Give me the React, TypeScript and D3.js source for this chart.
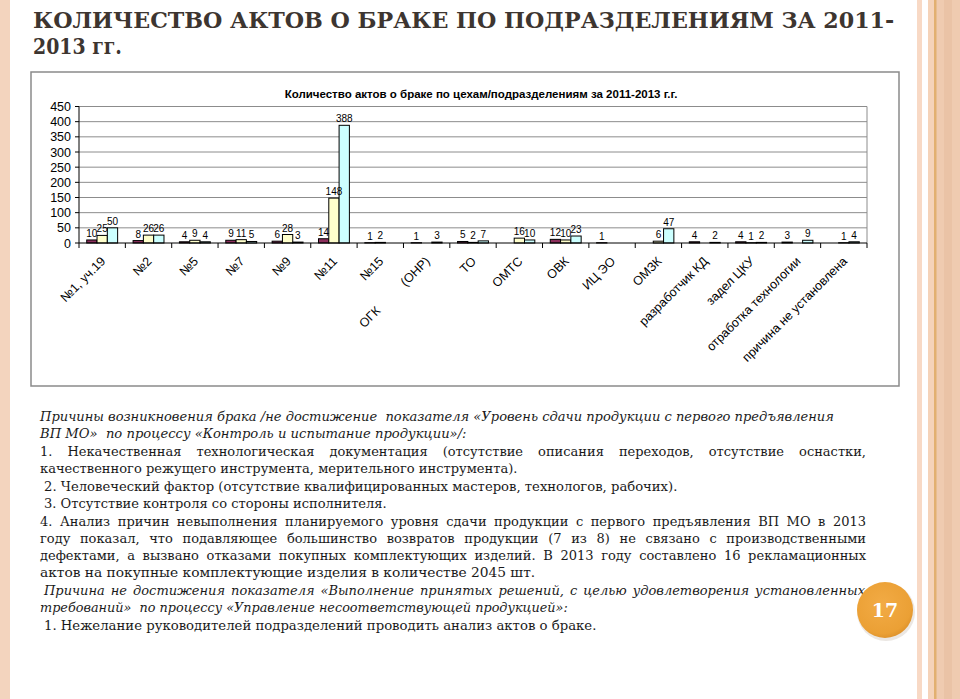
import { useLayoutEffect, useRef, useState } from "react";
import * as d3 from "d3";

// categories (workshops / departments)
const categories = [
  "№1, уч.19", "№2", "№5", "№7", "№9", "№11", "№15",
  "ОГК          (ОНР)", "ТО", "ОМТС", "ОВК", "ИЦ ЭО", "ОМЗК",
  "разработчик КД", "задел ЦКУ", "отработка технологии", "причина не установлена",
];
const years = ["2011", "2012", "2013"];
const values2011 = [10, 8, 4, 9, 6, 14, 1, 1, 5, null, 12, 1, null, 4, 4, 3, null];
const values2012 = [25, 26, 9, 11, 28, 148, 2, null, 2, 16, 10, null, 6, null, 1, null, 1];
const values2013 = [50, 26, 4, 5, 3, 388, null, 3, 7, 10, 23, null, 47, 2, 2, 9, 4];
const yTicks = [0, 50, 100, 150, 200, 250, 300, 350, 400, 450];
const colors = ["#8c2f5c", "#ffffcc", "#ccffff"];

const slideTitle = [
  "КОЛИЧЕСТВО АКТОВ О БРАКЕ ПО ПОДРАЗДЕЛЕНИЯМ ЗА 2011-",
  "2013 гг.",
];
const chartTitle = "Количество актов о браке по цехам/подразделениям за 2011-2013 г.г.";

// text block: [text, italic, x, endX, baseline, justified]
const bodyLines: [string, boolean, number, number, number, boolean][] = [
  ["Причины возникновения брака /не достижение  показателя «Уровень сдачи продукции с первого предъявления", true, 40, 835, 421, false],
  ["ВП МО»  по процессу «Контроль и испытание продукции»/:", true, 40, 467, 438, false],
  ["1. Некачественная технологическая документация (отсутствие описания переходов, отсутствие оснастки,", false, 40, 866, 456, true],
  ["качественного режущего инструмента, мерительного инструмента).", false, 40, 518, 473, false],
  ["2. Человеческий фактор (отсутствие квалифицированных мастеров, технологов, рабочих).", false, 44, 678, 491, false],
  ["3. Отсутствие контроля со стороны исполнителя.", false, 44, 387, 508, false],
  ["4. Анализ причин невыполнения планируемого уровня сдачи продукции с первого предъявления ВП МО в 2013", false, 40, 866, 526, true],
  ["году показал, что подавляющее большинство возвратов продукции (7 из 8) не связано с производственными", false, 40, 866, 543, true],
  ["дефектами, а вызвано отказами покупных комплектующих изделий. В 2013 году составлено 16 рекламационных", false, 40, 866, 560, true],
  ["актов на покупные комплектующие изделия в количестве 2045 шт.", false, 40, 536, 577, false],
  ["Причина не достижения показателя «Выполнение принятых решений, с целью удовлетворения установленных", true, 44, 865, 595, true],
  ["требований»  по процессу «Управление несоответствующей продукцией»:", true, 40, 568, 612, false],
  ["1. Нежелание руководителей подразделений проводить анализ актов о браке.", false, 44, 597, 630, false],
];

const W = 960;
const H = 699;
const plot = { left: 79, right: 867, top: 106.5, bottom: 243 };
const sans = "Liberation Sans";
const serif = "DejaVu Serif";

// text fitted to a measured width: word spacing when justified, horizontal scale otherwise
function FitText({ text, x, y, width, justify, ...rest }: any) {
  const ref = useRef<SVGTextElement>(null);
  const [fit, setFit] = useState({ s: 1, ws: 0 });
  useLayoutEffect(() => {
    const el = ref.current;
    if (!el) return;
    const w = el.getComputedTextLength();
    const spaces = (text.match(/ /g) || []).length;
    if (justify && w < width && spaces > 0) setFit({ s: 1, ws: (width - w) / spaces });
    else setFit({ s: width / w, ws: 0 });
  }, [text, width, justify]);
  return (
    <text ref={ref} transform={`translate(${x},${y}) scale(${fit.s},1)`}
      style={{ wordSpacing: fit.ws + "px", whiteSpace: "pre" }} {...rest}>{text}</text>
  );
}

export default function App() {
  const series = [values2011, values2012, values2013];

  const x0 = d3.scaleBand<string>().domain(categories).range([plot.left, plot.right]);
  const x1 = d3.scaleBand<string>().domain(years).range([0, x0.bandwidth()]).paddingOuter(0.75);
  const y = d3.scaleLinear().domain([0, 450]).range([plot.bottom, plot.top]);

  const bars = categories.flatMap((c, i) =>
    years.map((yr, s) => ({ c, yr, s, v: series[s][i] }))
  ).filter(d => d.v != null) as { c: string; yr: string; s: number; v: number }[];

  return (
    <svg width={W} height={H} viewBox={`0 0 ${W} ${H}`}
      style={{ position: "fixed", left: 0, top: 0, background: "#fff" }}>
      <rect x={0} y={0} width={W} height={H} fill="#fff" />

      {/* side decoration */}
      <rect x={0} y={0} width={10} height={H} fill="#f3d4be" />
      <rect x={917} y={0} width={5} height={H} fill="#f8d9c5" />
      <rect x={928} y={0} width={32} height={H} fill="#efcbb0" />
      <rect x={928} y={0} width={6} height={H} fill="#f5d3b9" />
      <rect x={934} y={0} width={2.5} height={H} fill="#e2b070" />
      <rect x={944} y={0} width={8} height={H} fill="#eac3a6" />

      {/* slide title */}
      {slideTitle.map((t, i) => (
        <FitText key={i} text={t} x={33} y={i === 0 ? 28 : 54} width={i === 0 ? 862 : 89}
          justify={false} fontFamily={serif} fontWeight="bold" fontSize={23} fill="#3d3530" />
      ))}

      {/* chart box */}
      <rect x={31} y={72} width={868} height={314} fill="#fff" stroke="#8a8a8a" strokeWidth={1.5} />
      <text x={481} y={98} textAnchor="middle" fontFamily={sans} fontWeight="bold"
        fontSize={11.5} fill="#000">{chartTitle}</text>

      {/* gridlines */}
      {yTicks.map(t => (
        <g key={t}>
          {t > 0 && <line x1={plot.left} x2={plot.right} y1={y(t)} y2={y(t)} stroke="#8c8c8c" strokeWidth={1} />}
          <line x1={plot.left - 4} x2={plot.left} y1={y(t)} y2={y(t)} stroke="#000" />
          <text x={71} y={y(t) + 4.5} textAnchor="end" fontFamily={sans} fontSize={12.5} fill="#000">{t}</text>
        </g>
      ))}
      <line x1={plot.right} x2={plot.right} y1={plot.top} y2={plot.bottom} stroke="#8c8c8c" />

      {/* bars */}
      {bars.map(d => {
        const bx = (x0(d.c) as number) + (x1(d.yr) as number);
        return (
          <rect key={d.c + d.yr} x={bx} y={y(d.v)} width={x1.bandwidth()}
            height={plot.bottom - y(d.v)} fill={colors[d.s]} stroke="#000" strokeWidth={1} />
        );
      })}
      {bars.map(d => {
        const bx = (x0(d.c) as number) + (x1(d.yr) as number) + x1.bandwidth() / 2;
        return (
          <text key={"l" + d.c + d.yr} x={bx} y={y(d.v) - 3} textAnchor="middle"
            fontFamily={sans} fontSize={10} fill="#000">{d.v}</text>
        );
      })}

      {/* axes */}
      <line x1={plot.left} x2={plot.left} y1={plot.top} y2={plot.bottom} stroke="#000" />
      <line x1={plot.left} x2={plot.right} y1={plot.bottom} y2={plot.bottom} stroke="#000" />
      {categories.map(c => (
        <line key={"t" + c} x1={x0(c)} x2={x0(c)} y1={plot.bottom} y2={plot.bottom + 5} stroke="#000" />
      ))}
      <line x1={plot.right} x2={plot.right} y1={plot.bottom} y2={plot.bottom + 5} stroke="#000" />
      {categories.map(c => {
        const cx = (x0(c) as number) + x0.bandwidth() / 2 + 4;
        return (
          <text key={"x" + c} transform={`translate(${cx},${plot.bottom + 19}) rotate(-45)`}
            textAnchor="end" fontFamily={sans} fontSize={12.5} fill="#000"
            style={{ whiteSpace: "pre" }}>{c}</text>
        );
      })}

      {/* text block */}
      {bodyLines.map(([t, it, lx, ex, by, just], i) => (
        <FitText key={"b" + i} text={t} x={lx} y={by} width={ex - lx} justify={just}
          fontFamily={serif} fontSize={13} fontStyle={it ? "italic" : "normal"} fill="#1a1a1a" />
      ))}

      {/* page number */}
      <defs>
        <radialGradient id="badge" cx="45%" cy="40%" r="65%">
          <stop offset="0%" stopColor="#f2ab45" />
          <stop offset="80%" stopColor="#eba035" />
          <stop offset="100%" stopColor="#d98d28" />
        </radialGradient>
      </defs>
      <circle cx={886} cy={612} r={29} fill="#d8d0c8" opacity={0.5} />
      <circle cx={885} cy={610} r={28} fill="url(#badge)" />
      <text x={885} y={617} textAnchor="middle" fontFamily={serif} fontWeight="bold"
        fontSize={19} fill="#fff">17</text>
    </svg>
  );
}
